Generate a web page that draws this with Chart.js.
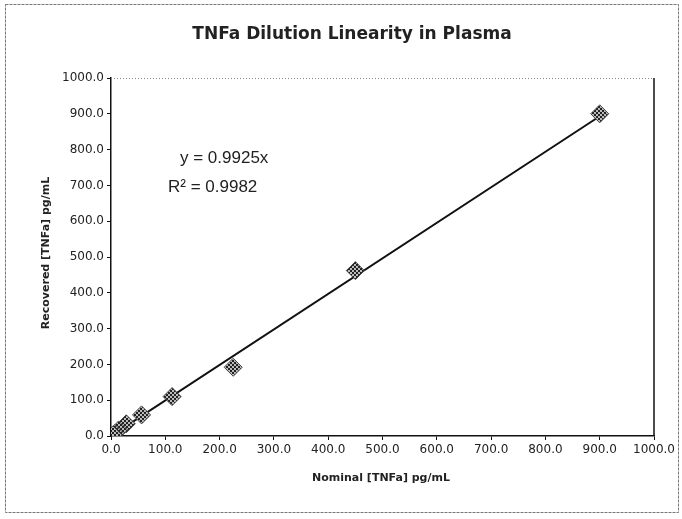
<!DOCTYPE html>
<html>
<head>
<meta charset="utf-8">
<script src="https://cdn.jsdelivr.net/npm/chart.js@4.4.1/dist/chart.umd.min.js"></script>
<style>
html,body{margin:0;padding:0;background:#fff;}
#wrap{width:682px;height:519px;position:relative;}
</style>
</head>
<body>
<div id="wrap"><canvas id="c" width="682" height="519"></canvas></div>
<script>
const chartTitle = "TNFa Dilution Linearity in Plasma";
const xAxisTitle = "Nominal [TNFa] pg/mL";
const yAxisTitle = "Recovered [TNFa] pg/mL";
const nominal = [900, 450, 225, 112.5, 56.25, 28.13, 14.06, 7.03, 3.52];
const recovered = [900, 462, 192, 110, 59, 34, 17, 7, 3];
const trendSlope = 0.9925;
const rSquared = 0.9982;
const trendX = [0, 900];
const equationLines = ["y = 0.9925x", "R\u00B2 = 0.9982"];

const FONT = "'DejaVu Sans', Verdana, sans-serif";
const EQFONT = "'Liberation Sans', Arial, sans-serif";

// checkered pattern for markers
const pc = document.createElement('canvas');
pc.width = 4; pc.height = 4;
const pctx = pc.getContext('2d');
pctx.fillStyle = '#bbb'; pctx.fillRect(0,0,4,4);
pctx.fillStyle = '#222';
pctx.fillRect(0,0,2,2); pctx.fillRect(2,2,2,2);
const pattern = document.getElementById('c').getContext('2d').createPattern(pc, 'repeat');

const points = nominal.map((x, i) => ({x: x, y: recovered[i]}));
const trend = trendX.map(x => ({x: x, y: x * trendSlope}));

const decor = {
  id: 'decor',
  beforeDraw(chart) {
    const ctx = chart.ctx;
    ctx.save();
    ctx.fillStyle = '#fff';
    ctx.fillRect(0, 0, chart.width, chart.height);
    ctx.restore();
  },
  afterDraw(chart) {
    const ctx = chart.ctx;
    const a = chart.chartArea;
    ctx.save();
    // outer frame
    ctx.strokeStyle = '#777';
    ctx.lineWidth = 1;
    ctx.setLineDash([3, 1]);
    ctx.strokeRect(5.5, 4.5, 673, 508);
    // plot area top and right
    ctx.setLineDash([1, 2]);
    ctx.strokeStyle = '#888';
    ctx.beginPath();
    ctx.moveTo(a.left, a.top + 0.5); ctx.lineTo(a.right, a.top + 0.5);
    ctx.stroke();
    ctx.setLineDash([]);
    ctx.strokeStyle = '#111';
    ctx.lineWidth = 1.5;
    ctx.beginPath();
    ctx.moveTo(a.right, a.top); ctx.lineTo(a.right, a.bottom);
    ctx.stroke();
    // title
    ctx.fillStyle = '#222';
    ctx.textAlign = 'center';
    ctx.textBaseline = 'middle';
    ctx.font = "bold 17px " + FONT;
    ctx.fillText(chartTitle, 352, 35);
    // axis titles
    ctx.font = "bold 11px " + FONT;
    ctx.fillText(xAxisTitle, 381, 478);
    ctx.save();
    ctx.translate(46, 253);
    ctx.rotate(-Math.PI / 2);
    ctx.fillText(yAxisTitle, 0, 0);
    ctx.restore();
    // equation
    ctx.font = "17px " + EQFONT;
    ctx.textAlign = 'left';
    ctx.textBaseline = 'alphabetic';
    ctx.fillText(equationLines[0], 180, 163);
    ctx.fillText(equationLines[1], 168, 192);
    ctx.restore();
  }
};

new Chart(document.getElementById('c'), {
  type: 'scatter',
  data: {
    datasets: [
      {
        label: 'Recovered',
        data: points,
        pointStyle: 'rectRot',
        pointRadius: 9,
        pointHoverRadius: 9,
        backgroundColor: pattern,
        borderColor: '#444',
        borderWidth: 1,
        order: 1
      },
      {
        label: 'Linear',
        type: 'line',
        data: trend,
        borderColor: '#111',
        borderWidth: 2,
        pointRadius: 0,
        fill: false,
        order: 2
      }
    ]
  },
  options: {
    responsive: false,
    animation: false,
    devicePixelRatio: 1,
    layout: { padding: { left: 20, right: 28, top: 78, bottom: 10 } },
    plugins: {
      legend: { display: false },
      title: { display: false },
      tooltip: { enabled: false }
    },
    scales: {
      x: {
        type: 'linear',
        min: 0, max: 1000,
        ticks: {
          stepSize: 100,
          color: '#222',
          font: { family: FONT, size: 12 },
          padding: 3,
          maxRotation: 0,
          callback: v => v.toFixed(1)
        },
        grid: { drawOnChartArea: false, drawTicks: true, tickLength: 4, color: '#111' },
        border: { display: true, color: '#111', width: 1.5 },
        afterFit: s => { s.height = 73; }
      },
      y: {
        type: 'linear',
        min: 0, max: 1000,
        ticks: {
          stepSize: 100,
          color: '#222',
          font: { family: FONT, size: 12 },
          padding: 3,
          callback: v => v.toFixed(1)
        },
        grid: { drawOnChartArea: false, drawTicks: true, tickLength: 4, color: '#111' },
        border: { display: true, color: '#111', width: 1.5 },
        afterFit: s => { s.width = 91; }
      }
    }
  },
  plugins: [decor]
});
</script>
</body>
</html>
